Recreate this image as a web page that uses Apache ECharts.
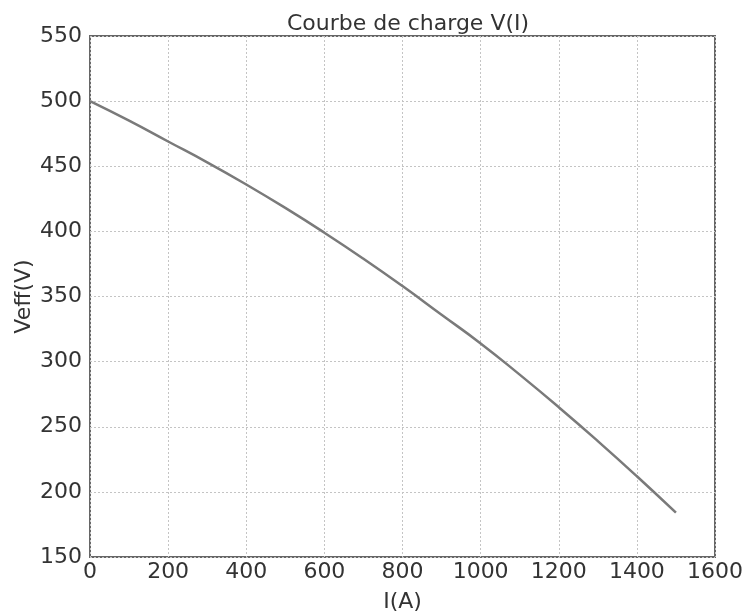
<!DOCTYPE html>
<html>
<head>
<meta charset="utf-8">
<script src="https://cdn.jsdelivr.net/npm/echarts@6/dist/echarts.min.js"></script>
<style>
html,body{margin:0;padding:0;background:#fff;}
#chart{width:745px;height:615px;}
</style>
</head>
<body>
<div id="chart"></div>
<script>
const currents = [0, 100, 200, 300, 400, 500, 600, 700, 800, 900, 1000, 1100, 1200, 1300, 1400, 1500];
const voltages = [500, 485, 469, 453, 436, 418, 399, 379, 358, 336, 314, 290, 265, 239, 212, 184];
const titleText = 'Courbe de charge V(I)';
const xLabel = 'I(A)';
const yLabel = 'Veff(V)';

const font = 'DejaVu Sans';
const textColor = '#333333';
const chart = echarts.init(document.getElementById('chart'), null, {renderer: 'canvas'});
chart.setOption({
  animation: false,
  backgroundColor: '#fff',
  title: {
    text: titleText,
    left: 403, top: 8, textAlign: 'center',
    textStyle: {fontFamily: font, fontSize: 22, fontWeight: 'normal', color: textColor}
  },
  grid: {
    left: 90, right: 30, top: 36, bottom: 58,
    containLabel: false, outerBoundsMode: 'none',
    show: true, borderColor: '#666', borderWidth: 2, backgroundColor: 'transparent'
  },
  xAxis: {
    type: 'value', min: 0, max: 1600, interval: 200,
    name: xLabel, nameLocation: 'middle', nameGap: 34,
    nameTextStyle: {fontFamily: font, fontSize: 22, color: textColor},
    axisLine: {show: false},
    axisTick: {show: false},
    axisLabel: {fontFamily: font, fontSize: 22, color: textColor, margin: 4, formatter: v => String(v)},
    splitLine: {show: true, lineStyle: {color: '#c4c4c4', type: [2, 2], width: 1}}
  },
  yAxis: {
    type: 'value', min: 150, max: 550, interval: 50,
    name: yLabel, nameLocation: 'middle', nameGap: 55, nameRotate: 90,
    nameMoveOverlap: false,
    nameTextStyle: {fontFamily: font, fontSize: 22, color: textColor},
    axisLine: {show: false},
    axisTick: {show: false},
    axisLabel: {fontFamily: font, fontSize: 22, color: textColor, margin: 8, formatter: v => String(v)},
    splitLine: {show: true, lineStyle: {color: '#c4c4c4', type: [2, 2], width: 1}}
  },
  series: [{
    type: 'line',
    data: currents.map((c, i) => [c, voltages[i]]),
    smooth: 0.5,
    showSymbol: false,
    lineStyle: {color: '#7a7a7a', width: 2.5}
  }]
});
</script>
</body>
</html>
